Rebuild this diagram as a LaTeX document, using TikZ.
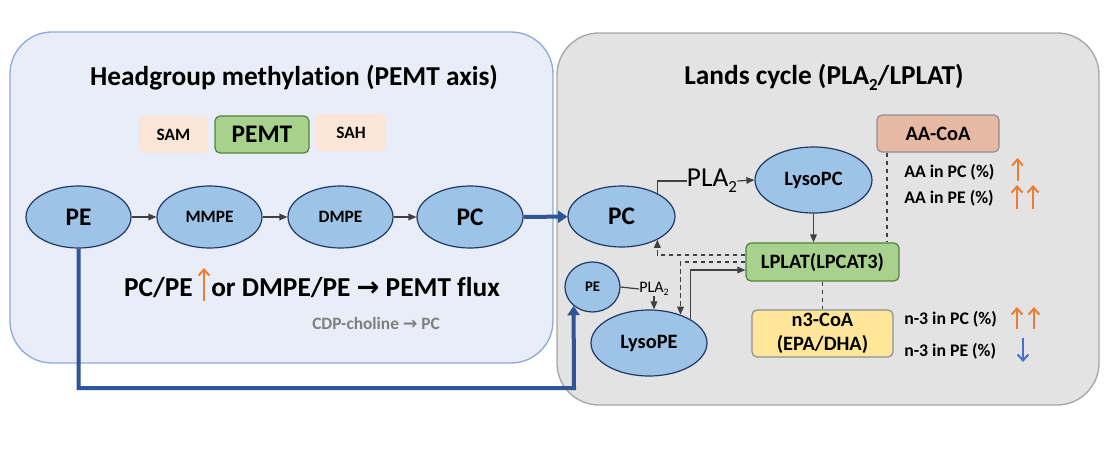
\documentclass[tikz,border=0pt]{standalone}
\usepackage{fontspec}
\setmainfont{Carlito}[Ligatures=NoCommon]
\newfontfamily\dvs{DejaVu Sans}
\usetikzlibrary{arrows.meta,shapes.geometric,calc}
\definecolor{panelA}{HTML}{E9EDF8}
\definecolor{panelAb}{HTML}{8FAADC}
\definecolor{panelB}{HTML}{E3E3E3}
\definecolor{panelBb}{HTML}{A6A6A6}
\definecolor{ellfill}{HTML}{9DC3E6}
\definecolor{elldraw}{HTML}{1F3864}
\definecolor{peach}{HTML}{FBE5D6}
\definecolor{greenf}{HTML}{A9D18E}
\definecolor{greend}{HTML}{548235}
\definecolor{salmon}{HTML}{E7B9A5}
\definecolor{yellowf}{HTML}{FFE699}
\definecolor{boxgray}{HTML}{8F8F8F}
\definecolor{navy}{HTML}{2F5597}
\definecolor{orng}{HTML}{ED7D31}
\definecolor{blu}{HTML}{4472C4}
\definecolor{conn}{HTML}{404040}
\definecolor{cdpgray}{HTML}{7F7F7F}
\newcommand\subtwo{\raisebox{-0.22em}{\scalebox{0.62}{2}}}
\begin{document}
\begin{tikzpicture}[x=0.75pt,y=-0.75pt,
  ell/.style={ellipse, draw=elldraw, line width=0.9pt, fill=ellfill, inner sep=0pt},
  big/.style={font=\fontsize{19}{22}\selectfont\bfseries},
  mid/.style={font=\fontsize{15.3}{18}\selectfont\bfseries},
  small/.style={font=\fontsize{13}{15}\selectfont\bfseries},
  titlefont/.style={font=\fontsize{20.5}{24}\selectfont\bfseries, inner sep=0pt},
  cofactor/.style={fill=peach, rounded corners=3.75pt, inner sep=0pt, small},
  enzyme/.style={fill=greenf, draw=greend, line width=0.9pt, rounded corners=3.75pt, inner sep=0pt},
  graybox/.style={draw=boxgray, line width=0.9pt, rounded corners=3.75pt, inner sep=0pt, mid},
  conarrow/.style={draw=conn, line width=0.9pt, -{Triangle[length=6pt,width=5pt]}},
  conline/.style={draw=conn, line width=0.9pt},
  dashpat/.style={dash pattern=on 3.5pt off 2.5pt},
  bluearrow/.style={draw=navy, line width=3pt, -{Triangle[length=7pt,width=9pt]}},
  uparrow/.style={draw=orng, line width=1.5pt, -{Straight Barb[length=4.5pt,width=8pt]}},
  downarrow/.style={draw=blu, line width=1.5pt, -{Straight Barb[length=4.5pt,width=8pt]}},
  info/.style={font=\fontsize{13.3}{15}\selectfont\bfseries, inner sep=0pt, anchor=west}
]
\fill[white] (0,0) rectangle (1111,450);
\useasboundingbox (0,0) rectangle (1111,450);

% panels
\draw[fill=panelA, draw=panelAb, line width=1pt, rounded corners=31.5pt] (10,32) rectangle (553,363);
\draw[fill=panelB, draw=panelBb, line width=1pt, rounded corners=31.5pt] (557,33) rectangle (1099,405);

% titles
\node[titlefont] (ltitle) at (294,78) {Headgroup methylation (PEMT axis)};
\node[titlefont] (rtitle) at (824,77) {Lands cycle (PLA\subtwo/LPLAT)};

% cofactors / enzyme
\node[cofactor, minimum width=51.75pt, minimum height=27.75pt] (sam) at (173.5,134.5) {SAM};
\node[enzyme, font=\fontsize{19}{22}\selectfont\bfseries, minimum width=70.5pt, minimum height=27.75pt] (pemt) at (262,134.5) {PEMT};
\node[cofactor, minimum width=52.5pt, minimum height=27.75pt] (sah) at (351,132.5) {SAH};

% methylation chain
\node[ell, big, minimum width=78.75pt, minimum height=46.5pt] (pe) at (78.5,217) {PE};
\node[ell, small, minimum width=78.75pt, minimum height=46.5pt] (mmpe) at (209.5,217) {MMPE};
\node[ell, small, minimum width=78.75pt, minimum height=46.5pt] (dmpe) at (340.5,217) {DMPE};
\node[ell, big, minimum width=79.5pt, minimum height=46.5pt] (pc) at (470,217) {PC};
\draw[conarrow] (pe) -- (mmpe);
\draw[conarrow] (mmpe) -- (dmpe);
\draw[conarrow] (dmpe) -- (pc);

% ratio text
\node[font=\fontsize{20.5}{24}\selectfont\bfseries, inner sep=0pt, anchor=base east] (ratioa) at (193,296) {PC/PE};
\node[font=\fontsize{20.5}{24}\selectfont\bfseries, inner sep=0pt, anchor=base west] (ratiob) at (211,296) {or DMPE/PE {\dvs\bfseries →} PEMT flux};
\coordinate (upA0) at (204,301);
\coordinate (upA1) at (204,268);
\draw[uparrow] (upA0) -- (upA1);
\node[small, text=cdpgray, inner sep=0pt] (cdp) at (376,323) {CDP-choline {\dvs\bfseries →} PC};

% Lands cycle
\node[ell, big, minimum width=80.25pt, minimum height=45.75pt] (rpc) at (621.5,216.5) {PC};
\node[ell, mid, minimum width=87.75pt, minimum height=49.5pt] (lysopc) at (813.5,180) {LysoPC};
\node[ell, font=\fontsize{11}{13}\selectfont\bfseries, minimum width=41.25pt, minimum height=37.5pt] (spe) at (592.5,287) {PE};
\node[ell, mid, minimum width=87pt, minimum height=49.5pt] (lysope) at (649,343) {LysoPE};

\node[graybox, fill=salmon, minimum width=91.5pt, minimum height=27.75pt] (aacoa) at (938,133.5) {AA-CoA};
\node[enzyme, mid, minimum width=114.75pt, minimum height=28.5pt] (lplat) at (822.5,262) {LPLAT(LPCAT3)};
\node[graybox, fill=yellowf, align=center, minimum width=105.75pt, minimum height=35.25pt, font=\fontsize{15.3}{17.5}\selectfont\bfseries] (n3coa) at (822.5,333.5) {n3-CoA\\(EPA/DHA)};

% PLA2 on PC
\node[font=\fontsize{20.5}{24}\selectfont, inner sep=0pt] (pla) at (712,181) {PLA\subtwo};
\draw[conline] (rpc.33) |- (pla.west);
\draw[conarrow] (pla.east) -- (lysopc.west);

% LysoPC -> LPLAT
\draw[conarrow] (lysopc.south) -- (lysopc.south |- lplat.north);

% AA-CoA dashed
\coordinate (aadash) at ($(aacoa.south west)+(10.5,0)$);
\draw[conline, dashpat] (aadash) -- (aadash |- lplat.north);
% LPLAT -> n3-CoA dashed
\draw[conline, dashpat] (lplat.south) -- (n3coa.north);

% LPLAT -> PC, LysoPE dashed
\draw[conarrow, dashpat] ($(lplat.west)+(0,-7)$) -| (rpc.-33);
\draw[conarrow, dashpat] (lplat.west) -| (lysope.42);
% LysoPE -> LPLAT solid
\draw[conarrow] (lysope.30) |- ($(lplat.west)+(0,8)$);

% small PE PLA2
\node[font=\fontsize{12}{14}\selectfont, inner sep=0pt] (spla) at (654,289) {PLA\subtwo};
\draw[conline] (spe.east) -- (spla.west);
\draw[conarrow] (spla.south) -- (spla.south |- lysope.north);

% blue connectors
\draw[bluearrow] (pc) -- (rpc);
\coordinate (bturn) at (574,388);
\draw[bluearrow] (pe.south) |- (bturn) -- (spe.225);

% info texts
\node[info] (aapc) at (904,172) {AA in PC (\%)};
\node[info] (aape) at (904,198.5) {AA in PE (\%)};
\node[info] (n3pc) at (904,319.5) {n-3 in PC (\%)};
\node[info] (n3pe) at (904,351) {n-3 in PE (\%)};

\coordinate (a1b) at (1017.5,181); \coordinate (a1t) at (1017.5,158);
\draw[uparrow] (a1b) -- (a1t);
\coordinate (a2b) at (1017,209); \coordinate (a2t) at (1017,185);
\draw[uparrow] (a2b) -- (a2t);
\coordinate (a3b) at (1033,209); \coordinate (a3t) at (1033,185);
\draw[uparrow] (a3b) -- (a3t);
\coordinate (a4b) at (1017,329); \coordinate (a4t) at (1017,307);
\draw[uparrow] (a4b) -- (a4t);
\coordinate (a5b) at (1034,329); \coordinate (a5t) at (1034,307);
\draw[uparrow] (a5b) -- (a5t);
\coordinate (a6t) at (1023,338); \coordinate (a6b) at (1023,362);
\draw[downarrow] (a6t) -- (a6b);
\end{tikzpicture}
\end{document}
